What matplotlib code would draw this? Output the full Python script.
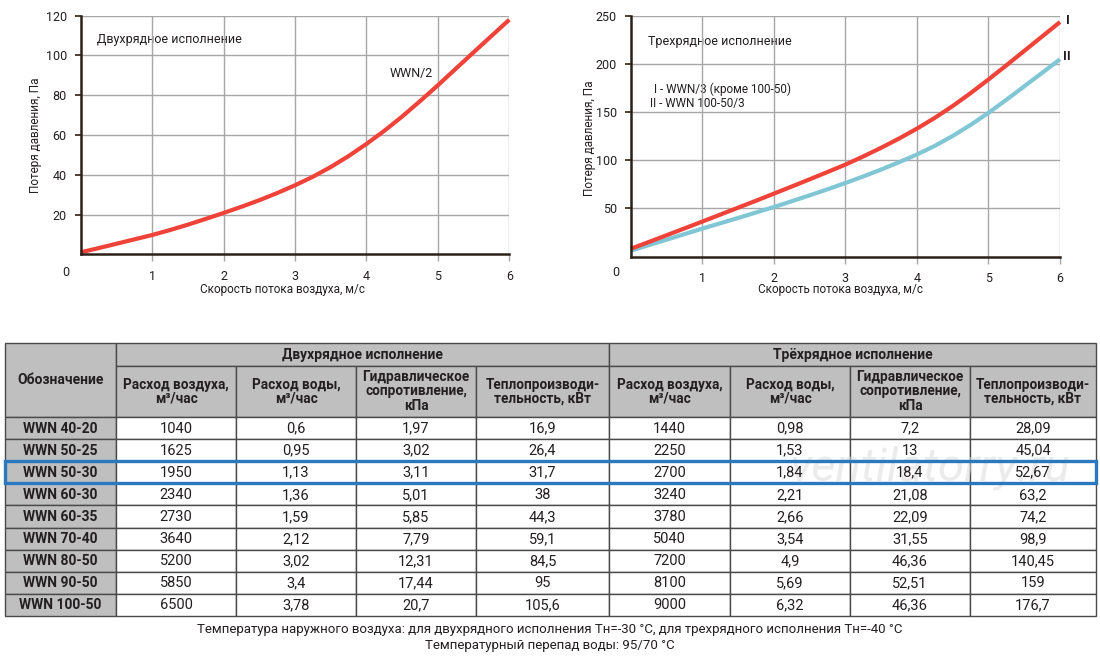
import matplotlib
matplotlib.use('Agg')
import matplotlib.pyplot as plt
from matplotlib.patches import Rectangle

plt.rcParams['font.family'] = ['Roboto', 'DejaVu Sans']

# ---------------- data ----------------
speed = [0, 0.25, 0.5, 0.75, 1, 1.25, 1.5, 1.75, 2, 2.25, 2.5, 2.75, 3,
         3.25, 3.5, 3.75, 4, 4.25, 4.5, 4.75, 5, 5.25, 5.5, 5.75, 6]
loss_two_row = [1, 3.1, 5.3, 7.5, 9.7, 12.2, 14.9, 17.8, 20.8, 23.9, 27.2, 30.8, 34.7,
                39.0, 43.9, 49.4, 55.5, 62.1, 69.3, 77.0, 85.0, 93.3, 101.6, 109.8, 118]
loss_three_row_I = [8, 15, 22.05, 29.15, 36.3, 43.5, 50.7, 57.95, 65.3, 72.7, 80.2, 87.8, 95.5,
                    104, 113, 122.6, 132.9, 144.1, 156.4, 169.8, 184, 198.7, 213.7, 228.7, 243.7]
loss_three_row_II = [6, 11.75, 17.5, 23.25, 29, 34.5, 40.05, 45.7, 51.4, 57.4, 63.55, 69.85, 76.4,
                     83.2, 90.4, 98, 106, 115, 125.3, 136.8, 149.3, 162.9, 176.9, 190.9, 205]

left_yticks = [20, 40, 60, 80, 100, 120]
right_yticks = [50, 100, 150, 200, 250]
xticks = [1, 2, 3, 4, 5, 6]

models = ['WWN 40-20', 'WWN 50-25', 'WWN 50-30', 'WWN 60-30', 'WWN 60-35',
          'WWN 70-40', 'WWN 80-50', 'WWN 90-50', 'WWN 100-50']
air2 = ['1040', '1625', '1950', '2340', '2730', '3640', '5200', '5850', '6500']
water2 = ['0,6', '0,95', '1,13', '1,36', '1,59', '2,12', '3,02', '3,4', '3,78']
hyd2 = ['1,97', '3,02', '3,11', '5,01', '5,85', '7,79', '12,31', '17,44', '20,7']
heat2 = ['16,9', '26,4', '31,7', '38', '44,3', '59,1', '84,5', '95', '105,6']
air3 = ['1440', '2250', '2700', '3240', '3780', '5040', '7200', '8100', '9000']
water3 = ['0,98', '1,53', '1,84', '2,21', '2,66', '3,54', '4,9', '5,69', '6,32']
hyd3 = ['7,2', '13', '18,4', '21,08', '22,09', '31,55', '46,36', '52,51', '46,36']
heat3 = ['28,09', '45,04', '52,67', '63,2', '74,2', '98,9', '140,45', '159', '176,7']

sub_headers = ['Расход воздуха,\nм³/час', 'Расход воды,\nм³/час',
               'Гидравлическое\nсопротивление,\nкПа', 'Теплопроизводи-\nтельность, кВт']
group_headers = ['Двухрядное исполнение', 'Трёхрядное исполнение']
first_header = 'Обозначение'
highlight_row = 2

# ---------------- style ----------------
RED = '#EF4238'
BLUE = '#80C6D4'
TXT = '#231f20'
GRID = '#a6a6a6'
AXC = '#2b2118'
HDR = '#bfbfbf'
BORDER = '#4a4a4a'

W, H = 1100, 656
fig = plt.figure(figsize=(W / 100, H / 100), dpi=100)

# overlay axes in pixel coordinates (for table & annotations)
ov = fig.add_axes([0, 0, 1, 1])
ov.set_xlim(0, W)
ov.set_ylim(H, 0)
ov.axis('off')
ov.patch.set_visible(False)


def make_axes(l, r, b, t):
    return fig.add_axes([l / W, 1 - b / H, (r - l) / W, (b - t) / H])


def style(ax, ymax, yticks):
    ax.set_xlim(0, 6)
    ax.set_ylim(0, ymax)
    ax.set_xticks(xticks)
    ax.set_yticks(yticks)
    ax.grid(True, color=GRID, lw=1.0)
    ax.set_axisbelow(True)
    for s in ['top', 'right']:
        ax.spines[s].set_visible(False)
    for s in ['left', 'bottom']:
        ax.spines[s].set_color(AXC)
        ax.spines[s].set_linewidth(1.8)
    ax.tick_params(axis='x', length=5, width=1, color=GRID, pad=6,
                   labelsize=9, labelcolor=TXT)
    ax.tick_params(axis='y', length=4, width=1.2, color=AXC, pad=6,
                   labelsize=9, labelcolor=TXT)
    ax.patch.set_visible(False)


ax1 = make_axes(80.7, 509.3, 254.3, 15.7)
style(ax1, 120, left_yticks)
ax1.plot(speed, loss_two_row, color=RED, lw=3.0, solid_capstyle='butt',
         solid_joinstyle='round', clip_on=False)

ax2 = make_axes(630.7, 1060, 256.5, 16)
style(ax2, 250, right_yticks)
ax2.plot(speed, loss_three_row_II, color=BLUE, lw=3.0, solid_capstyle='butt',
         solid_joinstyle='round', clip_on=False)
ax2.plot(speed, loss_three_row_I, color=RED, lw=3.0, solid_capstyle='butt',
         solid_joinstyle='round', clip_on=False)

# chart annotations
fs = 9
ov.text(66, 273, '0', ha='center', va='center', fontsize=fs, color=TXT)
ov.text(616, 273, '0', ha='center', va='center', fontsize=fs, color=TXT)
ov.text(35, 135, 'Потеря давления, Па', rotation=90, ha='center', va='center', fontsize=8.5, color=TXT)
ov.text(590, 138, 'Потеря давления, Па', rotation=90, ha='center', va='center', fontsize=8.5, color=TXT)
ov.text(282, 289, 'Скорость потока воздуха, м/с', ha='center', va='center', fontsize=8.5, color=TXT)
ov.text(840, 290, 'Скорость потока воздуха, м/с', ha='center', va='center', fontsize=8.5, color=TXT)
ov.text(97, 40, 'Двухрядное исполнение', ha='left', va='center', fontsize=fs, color=TXT)
ov.text(390, 73, 'WWN/2', ha='left', va='center', fontsize=fs, color=TXT)
ov.text(648, 42, 'Трехрядное исполнение', ha='left', va='center', fontsize=fs, color=TXT)
ov.text(654, 89, 'I - WWN/3 (кроме 100-50)', ha='left', va='center', fontsize=8.5, color=TXT)
ov.text(650, 103, 'II - WWN 100-50/3', ha='left', va='center', fontsize=8.5, color=TXT)
ov.text(1066, 20, 'I', ha='left', va='center', fontsize=9.5, color=TXT, fontweight='bold')
ov.text(1063, 57, 'II', ha='left', va='center', fontsize=9.5, color=TXT, fontweight='bold')

# ---------------- table ----------------
col_edges = [5, 116, 236, 356, 476, 609, 730, 850, 970, 1096]
y_top, y_mid, y_hdr = 343, 366, 417
row_h = 22.1


def cell(x0, x1, y0, y1, fc):
    ov.add_patch(Rectangle((x0, y0), x1 - x0, y1 - y0, facecolor=fc,
                           edgecolor=BORDER, lw=1.0, zorder=1))


# header cells
cell(col_edges[0], col_edges[1], y_top, y_hdr, HDR)
ov.text((col_edges[0] + col_edges[1]) / 2, (y_top + y_hdr) / 2, first_header,
        ha='center', va='center', fontsize=10, fontweight='bold', color=TXT, zorder=3)
for g, (c0, c1) in enumerate([(1, 5), (5, 9)]):
    cell(col_edges[c0], col_edges[c1], y_top, y_mid, HDR)
    ov.text((col_edges[c0] + col_edges[c1]) / 2, (y_top + y_mid) / 2, group_headers[g],
            ha='center', va='center', fontsize=10, fontweight='bold', color=TXT, zorder=3)
    for k in range(4):
        x0, x1 = col_edges[c0 + k], col_edges[c0 + k + 1]
        cell(x0, x1, y_mid, y_hdr, HDR)
        ov.text((x0 + x1) / 2, (y_mid + y_hdr) / 2, sub_headers[k], ha='center', va='center',
                fontsize=9.8, fontweight='bold', color=TXT, linespacing=1.0, zorder=3)

columns = [air2, water2, hyd2, heat2, air3, water3, hyd3, heat3]
for i, m in enumerate(models):
    y0 = y_hdr + i * row_h
    y1 = y0 + row_h
    cell(col_edges[0], col_edges[1], y0, y1, HDR)
    ov.text((col_edges[0] + col_edges[1]) / 2, (y0 + y1) / 2 + 0.5, m, ha='center', va='center',
            fontsize=10, fontweight='bold', color=TXT, zorder=3)
    for j, col in enumerate(columns):
        x0, x1 = col_edges[j + 1], col_edges[j + 2]
        cell(x0, x1, y0, y1, 'white')
        ov.text((x0 + x1) / 2, (y0 + y1) / 2 + 0.5, col[i], ha='center', va='center',
                fontsize=10.5, color=TXT, zorder=3)

# watermark
ov.text(930, 468, 'ventilatorry.ru', ha='center', va='center', fontsize=34,
        style='italic', color='#dcdcdc', alpha=0.55, zorder=2)

# highlighted row
hy0 = y_hdr + highlight_row * row_h
ov.add_patch(Rectangle((col_edges[0], hy0), col_edges[-1] - col_edges[0], row_h,
                       facecolor='none', edgecolor='#2a78bd', lw=2.4, zorder=4))

# footnote
ov.text(550, 630, 'Температура наружного воздуха: для двухрядного исполнения Тн=-30 °С, '
        'для трехрядного исполнения Тн=-40 °С', ha='center', va='center', fontsize=9.5, color=TXT)
ov.text(550, 645, 'Температурный перепад воды: 95/70 °С', ha='center', va='center',
        fontsize=9.5, color=TXT)

fig.savefig('out.png', dpi=100)
